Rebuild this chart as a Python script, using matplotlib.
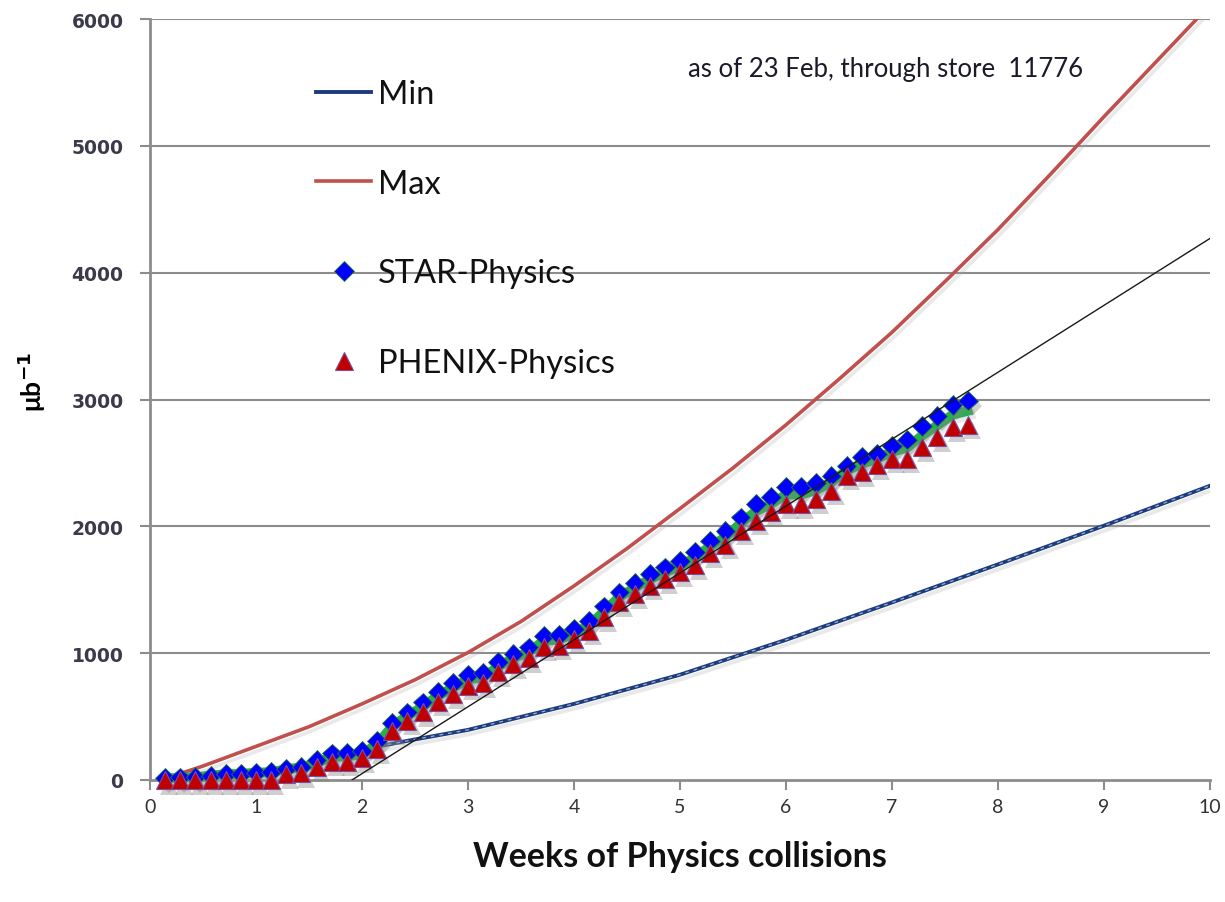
import matplotlib
matplotlib.use("Agg")
import matplotlib.pyplot as plt
import matplotlib.patheffects as pe

# ---------------- data ----------------
days = list(range(1, 55))
weeks = [d / 7.0 for d in days]

star = [15, 20, 22, 35, 45, 48, 58, 62, 90, 105,
        160, 210, 215, 230, 310, 450, 533, 612, 697, 765,
        828, 844, 928, 994, 1046, 1135, 1142, 1190, 1256, 1369,
        1479, 1553, 1624, 1676, 1729, 1800, 1887, 1962, 2071, 2176,
        2229, 2308, 2308, 2342, 2400, 2474, 2545, 2571, 2632, 2684,
        2790, 2869, 2958, 2992]

phenix = [0, 0, 0, 0, 0, 0, 0, 0, 45, 55,
          100, 145, 145, 170, 245, 389, 468, 533, 618, 678,
          744, 765, 849, 915, 960, 1052, 1060, 1111, 1177, 1282,
          1400, 1466, 1532, 1584, 1637, 1695, 1789, 1855, 1966, 2045,
          2111, 2176, 2176, 2216, 2282, 2400, 2426, 2484, 2532, 2532,
          2624, 2702, 2781, 2800]

green = [12, 18, 22, 35, 45, 48, 58, 62, 85, 100,
         135, 182, 185, 205, 282, 425, 505, 578, 663, 727,
         792, 810, 894, 960, 1008, 1098, 1106, 1155, 1221, 1330,
         1444, 1514, 1583, 1636, 1688, 1754, 1843, 1913, 2024, 2118,
         2177, 2250, 2250, 2286, 2347, 2440, 2492, 2532, 2587, 2620,
         2717, 2796, 2880, 2910]

max_x = [0.14, 0.5, 1, 1.5, 2, 2.5, 3, 3.5, 4, 4.5, 5, 5.5, 6, 6.5, 7,
         7.5, 8, 8.5, 9, 9.5, 10]
max_y = [10, 110, 265, 420, 600, 790, 1005, 1250, 1530, 1825, 2140, 2460,
         2800, 3160, 3530, 3930, 4340, 4780, 5230, 5670, 6110]

min_x = [2.0, 2.5, 3, 4, 5, 6, 7, 8, 9, 10]
min_y = [240, 320, 395, 600, 830, 1105, 1400, 1700, 2005, 2320]

fit_x = [1.905, 10]
fit_y = [0, 4270]

x_ticks = list(range(0, 11))
y_ticks = [0, 1000, 2000, 3000, 4000, 5000, 6000]

# ---------------- figure ----------------
W, H = 1225, 903
fig = plt.figure(figsize=(W / 100, H / 100), dpi=100)
ax = fig.add_axes([150 / W, 1 - 781 / H, 1060 / W, 761 / H])

grid_c = '#8c8c8c'
for yv in y_ticks[1:]:
    ax.axhline(yv, color=grid_c, lw=1.5, zorder=1)

shadow_line = [pe.SimpleLineShadow(offset=(2, -3), shadow_color='#aaaaaa', alpha=0.25), pe.Normal()]
shadow_mark = [pe.SimplePatchShadow(offset=(3, -4), shadow_rgbFace='#888888', alpha=0.4), pe.Normal()]

# Min
ax.plot(min_x, min_y, color='#1f3b7a', lw=2.8, zorder=2, path_effects=shadow_line, label='Min')
ax.plot(min_x, min_y, color='#8fb4e3', lw=0.9, ls=(0, (3, 4)), zorder=2.1)
# Max
ax.plot(max_x, max_y, color='#c0504d', lw=2.6, zorder=2, path_effects=shadow_line, label='Max')

# green
ax.plot(weeks, green, color='#22b14c', lw=7, zorder=3, path_effects=shadow_line, clip_on=False)
# STAR
ax.plot(weeks, star, ls='none', marker='D', ms=10, mfc='#0000ff', mec='#2a7a2a', mew=0.6,
        zorder=4, path_effects=shadow_mark, clip_on=False, label='STAR-Physics')
# PHENIX
ax.plot(weeks, phenix, ls='none', marker='^', ms=13, mfc='#c00000', mec='#7a4fa0', mew=0.8,
        zorder=5, path_effects=shadow_mark, clip_on=False, label='PHENIX-Physics')
# fit line
ax.plot(fit_x, fit_y, color='#1a1a1a', lw=1, zorder=6)

ax.set_xlim(0, 10)
ax.set_ylim(0, 6000)
ax.set_xticks(x_ticks)
ax.set_yticks(y_ticks)
for s in ['top', 'right']:
    ax.spines[s].set_visible(False)
for s in ['left', 'bottom']:
    ax.spines[s].set_color(grid_c)
    ax.spines[s].set_linewidth(2)
    ax.spines[s].set_zorder(1.5)
ax.tick_params(axis='both', direction='out', length=7, width=1.5, color=grid_c)
ax.tick_params(axis='y', pad=12, labelsize=13.5, labelcolor='#3a3a4a')
ax.tick_params(axis='x', pad=6, labelsize=14, labelcolor='#333333')
for t in ax.get_xticklabels():
    t.set_family('Lato')
for t in ax.get_yticklabels():
    t.set_family('DejaVu Sans')
    t.set_fontweight('bold')

ax.set_xlabel('Weeks of Physics collisions', fontsize=24.5, fontweight='bold',
              family='Lato', labelpad=18, color='#111111')
fig.text(32 / W, 1 - 382 / H, 'μb$^{\\mathbf{-1}}$', rotation=90, fontsize=19,
         fontweight='bold', family=['Lato', 'DejaVu Sans'], ha='center', va='center')

fig.text(886 / W, 1 - 70 / H, 'as of 23 Feb, through store  11776', fontsize=18.5,
         family='Lato', ha='center', va='center', color='#1a1a2a')

leg = ax.legend(loc='upper left', bbox_to_anchor=(316 / W, 1 - 80 / H),
                bbox_transform=fig.transFigure, frameon=False,
                prop={'family': 'Lato', 'size': 23.5}, handlelength=1.69,
                handletextpad=0.2, labelspacing=1.83, borderpad=0, borderaxespad=0)
for t in leg.get_texts():
    t.set_color('#111111')
for h in leg.legend_handles:
    h.set_path_effects([])

fig.savefig('out.png', dpi=100)
